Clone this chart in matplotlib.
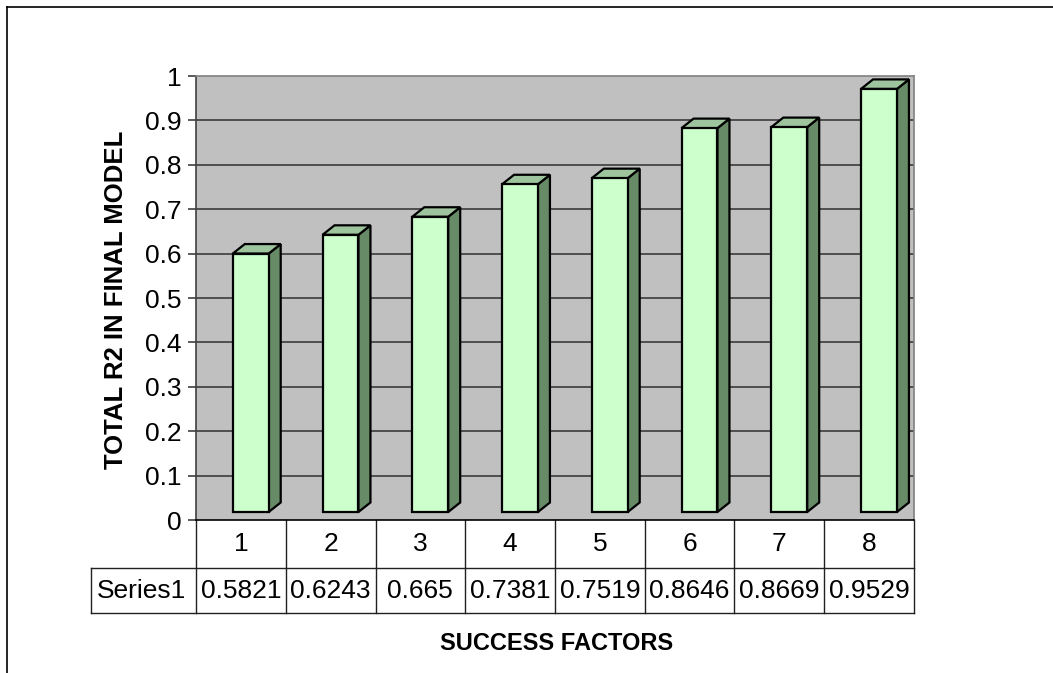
import matplotlib
matplotlib.use("Agg")
import matplotlib.pyplot as plt
from matplotlib.patches import Polygon, Rectangle
from matplotlib.lines import Line2D

plt.rcParams['font.family'] = ['Liberation Sans', 'DejaVu Sans']

categories = ['1', '2', '3', '4', '5', '6', '7', '8']
values = [0.5821, 0.6243, 0.665, 0.7381, 0.7519, 0.8646, 0.8669, 0.9529]
value_labels = ['0.5821', '0.6243', '0.665', '0.7381', '0.7519', '0.8646', '0.8669', '0.9529']
series_name = 'Series1'
yticks = [0, 0.1, 0.2, 0.3, 0.4, 0.5, 0.6, 0.7, 0.8, 0.9, 1]
ytick_labels = ['0', '0.1', '0.2', '0.3', '0.4', '0.5', '0.6', '0.7', '0.8', '0.9', '1']
xlabel = 'SUCCESS FACTORS'
ylabel = 'TOTAL R2 IN FINAL MODEL'

W, H = 1053, 673
fig = plt.figure(figsize=(W / 100, H / 100), dpi=100)
fig.patch.set_facecolor('white')

# outer frame (top and left edges visible)
fig.add_artist(Line2D([7 / W, 7 / W], [0, 1 - 7 / H], transform=fig.transFigure, color='black', lw=1.2))
fig.add_artist(Line2D([7 / W, 1], [1 - 7 / H, 1 - 7 / H], transform=fig.transFigure, color='black', lw=1.2))

x0, x1, y0, y1 = 196, 914, 76, 520
ax = fig.add_axes([x0 / W, 1 - y1 / H, (x1 - x0) / W, (y1 - y0) / H])
ax.set_facecolor('#C0C0C0')
n = len(values)
ax.set_xlim(0, n)
ax.set_ylim(0, 1)

for s in ['top', 'right']:
    ax.spines[s].set_color('#808080')
    ax.spines[s].set_linewidth(1.2)
ax.spines['left'].set_color('#404040')
ax.spines['left'].set_linewidth(1.2)
ax.spines['bottom'].set_color('black')
ax.spines['bottom'].set_linewidth(1.2)

ax.set_yticks(yticks)
ax.set_yticklabels(ytick_labels, fontsize=19)
ax.tick_params(axis='y', length=6, width=1.2, color='#404040', pad=4.5)
ax.set_xticks([])
for yv in yticks[1:-1]:
    ax.axhline(yv, color='#303030', lw=1.1, zorder=1)

# pseudo-3D columns
px_per_y = (y1 - y0)
px_per_x = (x1 - x0) / n
lift = 8 / px_per_y
dy = 9.5 / px_per_y
dx = 12 / px_per_x
fl, fr = 0.41, 0.81
for i, v in enumerate(values):
    L, R = i + fl, i + fr
    b, t = lift, v + lift
    side = Polygon([(R, b), (R + dx, b + dy), (R + dx, t + dy), (R, t)], closed=True,
                   facecolor='#678A67', edgecolor='black', lw=1.6, zorder=3, joinstyle='miter')
    top = Polygon([(L, t), (L + dx, t + dy), (R + dx, t + dy), (R, t)], closed=True,
                  facecolor='#9DC49D', edgecolor='black', lw=1.6, zorder=3, joinstyle='miter')
    front = Rectangle((L, b), R - L, t - b, facecolor='#CCFFCC', edgecolor='black', lw=1.6,
                      zorder=4, joinstyle='miter')
    for p in (side, top, front):
        ax.add_patch(p)

# data table below the axis
row1 = -48 / px_per_y
row2 = -93 / px_per_y
hdr_left = (91 - x0) / px_per_x
tcol = '#202020'
tlw = 1.0
for i in range(n + 1):
    ax.add_line(Line2D([i, i], [0, row2], color=tcol, lw=tlw, clip_on=False))
ax.add_line(Line2D([hdr_left, n], [row1, row1], color=tcol, lw=tlw, clip_on=False))
ax.add_line(Line2D([hdr_left, n], [row2, row2], color=tcol, lw=tlw, clip_on=False))
ax.add_line(Line2D([hdr_left, hdr_left], [row1, row2], color=tcol, lw=tlw, clip_on=False))
for i, (c, lab) in enumerate(zip(categories, value_labels)):
    ax.text(i + 0.5, row1 / 2, c, ha='center', va='center', fontsize=19, clip_on=False)
    ax.text(i + 0.5, (row1 + row2) / 2, lab, ha='center', va='center', fontsize=19, clip_on=False)
ax.text(hdr_left / 2 - 0.02, (row1 + row2) / 2, series_name, ha='center', va='center', fontsize=19,
        clip_on=False)

fig.text(557 / W, 1 - 643 / H, xlabel, ha='center', va='center', fontsize=17, fontweight='bold')
fig.text(116 / W, 1 - 300 / H, ylabel, ha='center', va='center', fontsize=18.5, fontweight='bold',
         rotation=90)

fig.savefig('out.png', dpi=100)
